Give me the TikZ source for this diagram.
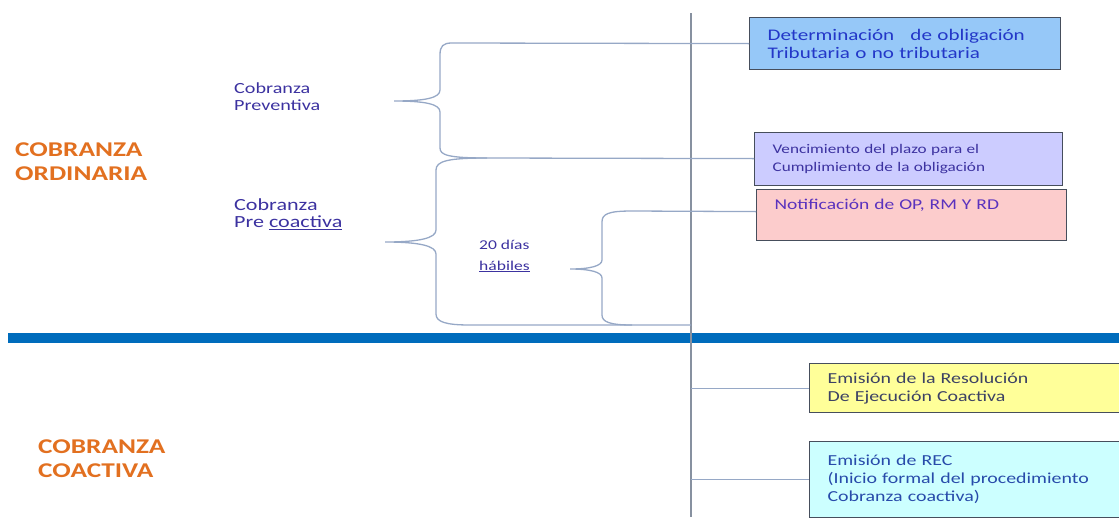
\documentclass[tikz,border=0pt]{standalone}
\usepackage{fontspec}
\setmainfont{Carlito}[FakeStretch=1.3]
\usetikzlibrary{positioning}
\definecolor{orange}{RGB}{226,112,32}
\definecolor{ink}{RGB}{60,50,160}
\definecolor{inkblue}{RGB}{35,55,200}
\definecolor{inkviolet}{RGB}{90,50,190}
\definecolor{inkslate}{RGB}{60,65,100}
\definecolor{inkdark}{RGB}{40,75,170}
\definecolor{edge}{RGB}{70,78,92}
\definecolor{rule}{RGB}{150,168,198}
\definecolor{axis}{RGB}{135,145,160}
\definecolor{bar}{RGB}{0,108,188}
\definecolor{skyfill}{RGB}{150,200,248}
\definecolor{lilacfill}{RGB}{204,204,255}
\definecolor{rosefill}{RGB}{252,204,204}
\definecolor{lemonfill}{RGB}{255,255,153}
\definecolor{icefill}{RGB}{204,255,255}
\tikzstyle{stage}=[draw=edge, line width=1.2pt, rectangle, anchor=north west, align=left, inner xsep=18pt, inner ysep=3pt]
\tikzstyle{phase}=[text=orange, font=\fontsize{21}{24}\selectfont\bfseries, align=left, anchor=west, inner sep=0pt]
\tikzstyle{sub}=[text=ink, align=left, anchor=west, inner sep=0pt]
\tikzstyle{link}=[draw=rule, line width=1pt]
\tikzstyle{curly}=[draw=rule, line width=1.3pt]
\begin{document}
\begin{tikzpicture}[x=1pt, y=-1pt]
\useasboundingbox (0,0) rectangle (1119,517);

\fill[bar] (8,333) rectangle (1119,343);
\coordinate (axtop) at (691,13);
\coordinate (axbot) at (691,517);
\draw[draw=axis, line width=1.4pt] (axtop) -- (axbot);

\node[phase] (ordin) at (15,162) {COBRANZA\\ORDINARIA};
\node[phase] (coact) at (38,459) {COBRANZA\\COACTIVA};
\node[sub, font=\fontsize{15.5}{17}\selectfont] (prevent) at (234,97) {Cobranza\\Preventiva};
\node[sub, font=\fontsize{17}{17}\selectfont] (precoac) at (234,214) {Cobranza\\Pre \underline{coactiva}};
\node[sub, font=\fontsize{13.5}{21}\selectfont] (dias) at (479,256) {20 días\\\underline{hábiles}};

\node[stage, fill=skyfill, minimum width=311pt, minimum height=52pt, text width=275pt, text=inkblue, font=\fontsize{16.2}{18}\selectfont] (detobl) at (749,17) {Determinación \ \ de obligación\\Tributaria o no tributaria};
\node[stage, fill=lilacfill, minimum width=308pt, minimum height=53pt, text width=272pt, text=ink, font=\fontsize{13.2}{18}\selectfont] (vencim) at (754,131.5) {Vencimiento del plazo para el\\Cumplimiento de la obligación};
\node[stage, fill=rosefill, minimum width=310pt, minimum height=51pt, text width=274pt, text height=17pt, text depth=28pt, text=inkviolet, font=\fontsize{15}{18}\selectfont] (notif) at (756,189) {Notificación de OP, RM Y RD};
\node[stage, fill=lemonfill, minimum width=312pt, minimum height=49pt, text width=276pt, text=inkslate, font=\fontsize{15.3}{18}\selectfont] (emires) at (809,363) {Emisión de la Resolución\\De Ejecución Coactiva};
\node[stage, fill=icefill, minimum width=312pt, minimum height=76pt, text width=276pt, text=inkdark, font=\fontsize{15.3}{18}\selectfont] (emirec) at (809,441) {Emisión de REC\\(Inicio formal del procedimiento\\Cobranza coactiva)};

\draw[curly] (detobl.west) -- (452,43) .. controls (443,43) and (440,46) .. (440,55) -- (440,90) .. controls (440,98) and (425,101) .. (394,101) .. controls (425,101) and (440,104) .. (440,112) -- (440,148) .. controls (440,155) and (448,158) .. (487,158) -- (vencim.west);
\draw[curly] (487,158) .. controls (448,158) and (436,161) .. (436,170) -- (436,230) .. controls (436,238) and (420,242) .. (385,242) .. controls (420,242) and (436,246) .. (436,254) -- (436,314) .. controls (436,322) and (446,325) .. (470,325) -- (axtop |- 0,325);
\draw[curly] ([yshift=3.5pt]notif.west) -- (632,211) .. controls (608,211) and (602,214) .. (602,222) -- (602,260) .. controls (602,266) and (590,269) .. (570,269) .. controls (590,269) and (602,272) .. (602,278) -- (602,315) .. controls (602,322) and (610,325) .. (632,325);
\draw[link] (axtop |- emires.west) -- (emires.west);
\draw[link] (axtop |- emirec.west) -- (emirec.west);
\end{tikzpicture}
\end{document}
